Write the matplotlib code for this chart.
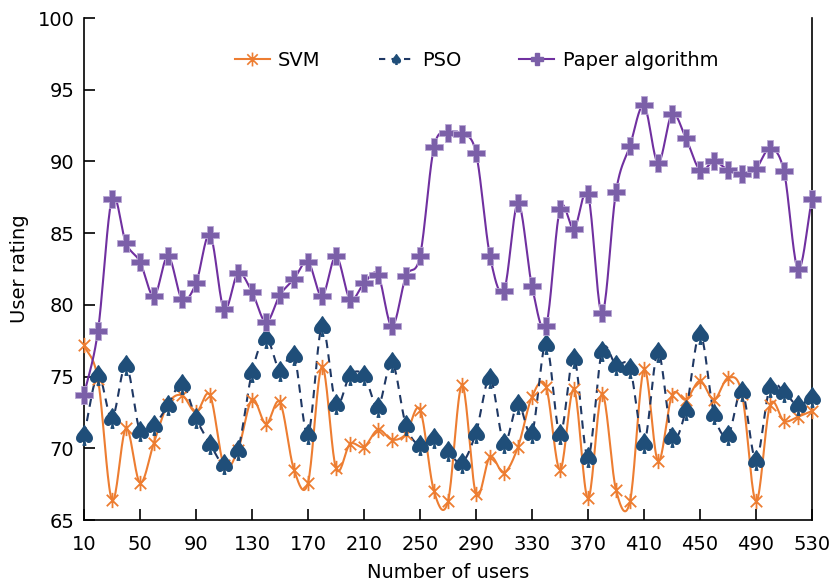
import numpy as np
import matplotlib
matplotlib.use("Agg")
import matplotlib.pyplot as plt
from matplotlib.path import Path

users = list(range(10, 531, 10))

svm = [77.2, 74.8, 66.4, 71.4, 67.6, 70.4, 73.1, 73.7, 72.5, 73.7,
       68.8, 69.9, 73.4, 71.7, 73.2, 68.5, 67.6, 75.7, 68.6, 70.3,
       70.1, 71.3, 70.6, 71.0, 72.7, 67.0, 66.3, 74.4, 66.8, 69.4,
       68.3, 70.1, 73.6, 74.3, 68.5, 74.1, 66.5, 73.8, 67.1, 66.3,
       75.5, 69.1, 73.7, 73.4, 74.7, 73.4, 74.9, 73.8, 66.3, 73.0,
       71.9, 72.2, 72.6]

pso = [70.9, 75.1, 72.1, 75.8, 71.2, 71.6, 73.0, 74.5, 72.1, 70.3,
       68.9, 69.9, 75.3, 77.7, 75.4, 76.5, 71.0, 78.5, 73.1, 75.1,
       75.1, 72.9, 76.0, 71.6, 70.2, 70.7, 69.8, 69.0, 71.1, 74.9,
       70.4, 73.1, 71.1, 77.3, 71.0, 76.3, 69.4, 76.8, 75.8, 75.6,
       70.4, 76.7, 70.8, 72.7, 78.0, 72.4, 70.9, 74.0, 69.2, 74.3,
       73.9, 73.0, 73.6]

paper = [73.7, 78.2, 87.4, 84.3, 83.0, 80.6, 83.4, 80.4, 81.5, 84.9,
         79.7, 82.2, 80.9, 78.8, 80.7, 81.8, 83.0, 80.6, 83.4, 80.4,
         81.5, 82.1, 78.5, 82.0, 83.4, 91.0, 92.0, 91.9, 90.6, 83.4,
         81.0, 87.1, 81.3, 78.5, 86.7, 85.3, 87.7, 79.4, 87.9, 91.1,
         93.9, 89.9, 93.3, 91.6, 89.4, 90.0, 89.4, 89.1, 89.5, 90.9,
         89.3, 82.5, 87.4]

xticks = list(range(10, 531, 40))
yticks = list(range(65, 101, 5))


def smooth(x, y, n=20):
    x = np.asarray(x, float)
    y = np.asarray(y, float)
    px = np.concatenate([[2 * x[0] - x[1]], x, [2 * x[-1] - x[-2]]])
    py = np.concatenate([[2 * y[0] - y[1]], y, [2 * y[-1] - y[-2]]])
    xs, ys = [], []
    t = np.linspace(0, 1, n, endpoint=False)
    for i in range(1, len(px) - 2):
        p0, p1, p2, p3 = px[i - 1], px[i], px[i + 1], px[i + 2]
        q0, q1, q2, q3 = py[i - 1], py[i], py[i + 1], py[i + 2]
        c1x, c2x = p1 + (p2 - p0) / 6, p2 - (p3 - p1) / 6
        c1y, c2y = q1 + (q2 - q0) / 6, q2 - (q3 - q1) / 6
        b = [(1 - t) ** 3, 3 * (1 - t) ** 2 * t, 3 * (1 - t) * t ** 2, t ** 3]
        xs.append(b[0] * p1 + b[1] * c1x + b[2] * c2x + b[3] * p2)
        ys.append(b[0] * q1 + b[1] * c1y + b[2] * c2y + b[3] * q2)
    xs.append([x[-1]])
    ys.append([y[-1]])
    return np.concatenate(xs), np.concatenate(ys)


star = Path([(0, -1), (0, 1), (-0.75, -0.75), (0.75, 0.75), (-0.75, 0.75), (0.75, -0.75)],
            [Path.MOVETO, Path.LINETO, Path.MOVETO, Path.LINETO, Path.MOVETO, Path.LINETO])

plt.rcParams['font.family'] = ['DejaVu Sans']
fig = plt.figure(figsize=(8.3, 5.85), dpi=100)
ax = fig.add_axes([84 / 830, 1 - 520 / 585, (812 - 84) / 830, (520 - 18) / 585])

c_svm = '#ED7D31'
c_pso_line = '#1F3864'
c_pso_m = '#1F4E79'
c_paper_line = '#7030A0'
c_paper_m = '#7B5FA8'

sx, sy = smooth(users, svm)
ax.plot(sx, sy, color=c_svm, lw=1.5, zorder=2)
ax.plot(users, svm, ls='none', marker=star, ms=11, mec=c_svm, mew=1.3, zorder=3, clip_on=False)

px_, py_ = smooth(users, pso)
ax.plot(px_, py_, color=c_pso_line, lw=1.5, ls=(0, (4, 3)), zorder=2)
ax.plot(users, pso, ls='none', marker=r'$\spadesuit$', ms=14, color=c_pso_m, zorder=3, clip_on=False)

qx, qy = smooth(users, paper)
ax.plot(qx, qy, color=c_paper_line, lw=1.5, zorder=2)
ax.plot(users, paper, ls='none', marker='P', ms=13, color=c_paper_m, mec='#b8a6d4', mew=0.6,
        zorder=4, clip_on=False)

h1, = ax.plot([], [], color=c_svm, lw=1.5, marker=star, ms=10, mec=c_svm, mew=1.2)
h2, = ax.plot([], [], color=c_pso_line, lw=1.5, ls=(0, (3, 3)), marker=r'$\spadesuit$', ms=7,
              mec=c_pso_m, mfc=c_pso_m)
h3, = ax.plot([], [], color=c_paper_line, lw=1.5, marker='P', ms=8, mfc=c_paper_m, mec=c_paper_m)
ax.legend([h1, h2, h3], ['SVM', 'PSO', 'Paper algorithm'], loc='center', bbox_to_anchor=(0.539, 0.915),
          ncol=3, frameon=False, fontsize=14, handlelength=1.8, columnspacing=3.0, handletextpad=0.42)

ax.set_xlim(10, 530)
ax.set_ylim(65, 100)
ax.set_xticks(xticks)
ax.set_yticks(yticks)
ax.tick_params(direction='in', length=8, width=1.2, labelsize=14)
ax.tick_params(axis='x', pad=11)
ax.tick_params(axis='y', pad=7)
ax.spines['top'].set_visible(False)
for s in ['left', 'bottom', 'right']:
    ax.spines[s].set_linewidth(1.2)
ax.set_xlabel('Number of users', fontsize=14, labelpad=6)
ax.set_ylabel('User rating', fontsize=14, labelpad=6)

fig.savefig('out.png', dpi=100)
